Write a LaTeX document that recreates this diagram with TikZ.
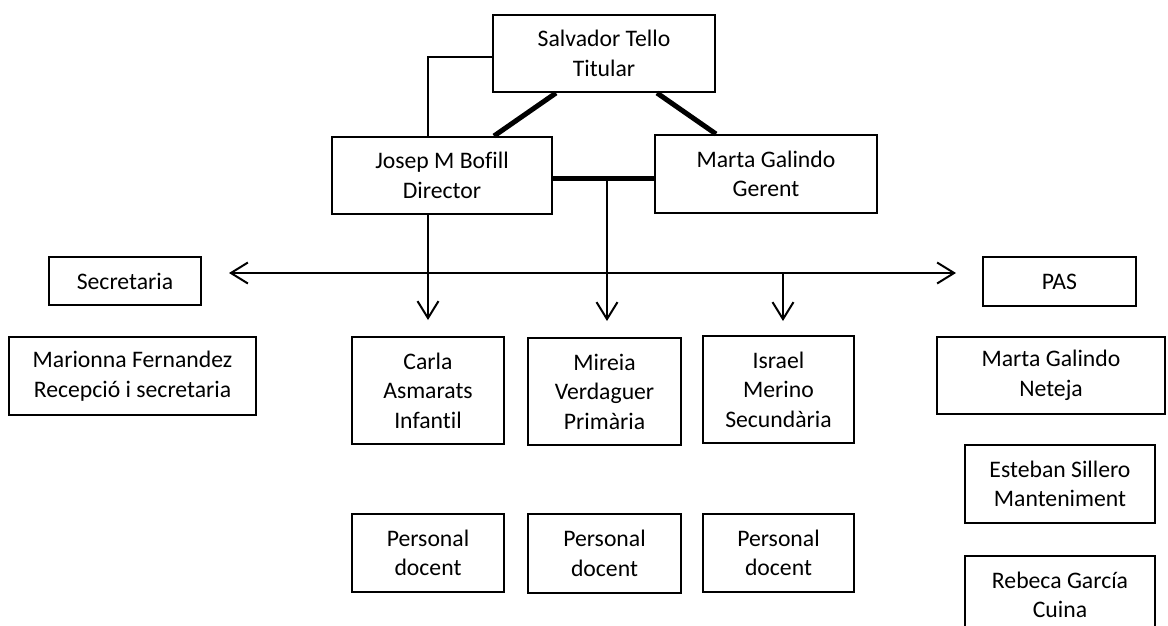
\documentclass[tikz,border=0pt]{standalone}
\usepackage{fontspec}
\newfontfamily\bxfont[Ligatures=NoCommon]{Carlito}
\usetikzlibrary{arrows.meta,calc}
\tikzset{
  box/.style={draw, line width=2pt, inner sep=0pt, align=center,
    font=\bxfont\fontsize{23.7}{29.5}\selectfont},
  thinline/.style={line width=2pt},
  thickline/.style={line width=5pt},
  arr/.style={thinline, -{Straight Barb[length=17pt,width=21pt]}},
  darr/.style={thinline, {Straight Barb[length=17pt,width=21pt]}-{Straight Barb[length=17pt,width=21pt]}}
}
\begin{document}
\begin{tikzpicture}[x=1pt,y=1pt]
\useasboundingbox (0,0) rectangle (1168,-625);
\clip (0,0) rectangle (1168,-625);
\fill[white] (0,0) rectangle (1168,-625);
% boxes
\node[box, minimum width=222pt, minimum height=77pt] (sal) at (604,-53.5) {Salvador Tello\\Titular};
\node[box, minimum width=220pt, minimum height=77pt] (jos) at (442,-175.5) {Josep M Bofill\\Director};
\node[box, minimum width=222pt, minimum height=78pt] (mge) at (766,-174) {Marta Galindo\\Gerent};
\node[box, minimum width=152pt, minimum height=48pt] (sec) at (125,-281) {Secretaria};
\node[box, minimum width=153pt, minimum height=49pt] (pas) at (1059.5,-281.5) {PAS};
\node[box, minimum width=247pt, minimum height=78pt] (mar) at (132.5,-376) {Marionna Fernandez\\Recepció i secretaria};
\node[box, minimum width=152pt, minimum height=107pt] (car) at (428,-390.5) {Carla\\Asmarats\\Infantil};
\node[box, minimum width=153pt, minimum height=107pt] (mir) at (604.5,-391.5) {Mireia\\Verdaguer\\Primària};
\node[box, minimum width=151pt, minimum height=107pt] (isr) at (778.5,-389.5) {Israel\\Merino\\Secundària};
\node[box, minimum width=228pt, minimum height=77pt] (net) at (1051,-375.5) {Marta Galindo\\Neteja};
\node[box, minimum width=190pt, minimum height=78pt] (est) at (1060,-484) {Esteban Sillero\\Manteniment};
\node[box, minimum width=190pt, minimum height=78pt] (reb) at (1060,-595) {Rebeca García\\Cuina};
\node[box, minimum width=152pt, minimum height=78pt] (p1) at (428,-553) {Personal\\docent};
\node[box, minimum width=153pt, minimum height=79pt] (p2) at (604.5,-553.5) {Personal\\docent};
\node[box, minimum width=151pt, minimum height=78pt] (p3) at (778.5,-553) {Personal\\docent};
% helper coordinates
\coordinate (hL) at (229,-273);
\coordinate (hR) at (956,-273);
\coordinate (iT) at (783,-273);
\coordinate (mT) at (607,-178);
% connectors
\draw[thinline] ([yshift=-3.5pt]sal.west) -| (car.north |- jos.north);
\draw[thickline] ($(sal.south west)+(64pt,0)$) -- ($(jos.north west)+(163pt,0)$);
\draw[thickline] ($(sal.south west)+(165pt,0)$) -- ($(mge.north west)+(62pt,0)$);
\draw[thickline] (jos.east |- mT) -- (mge.west |- mT);
\draw[arr] (mT) -- (mT |- 0,-321);
\draw[arr] (car.north |- jos.south) -- ([yshift=16pt]car.north);
\draw[darr] (hL) -- (hR);
\draw[arr] (iT) -- (iT |- 0,-321);
\end{tikzpicture}
\end{document}
